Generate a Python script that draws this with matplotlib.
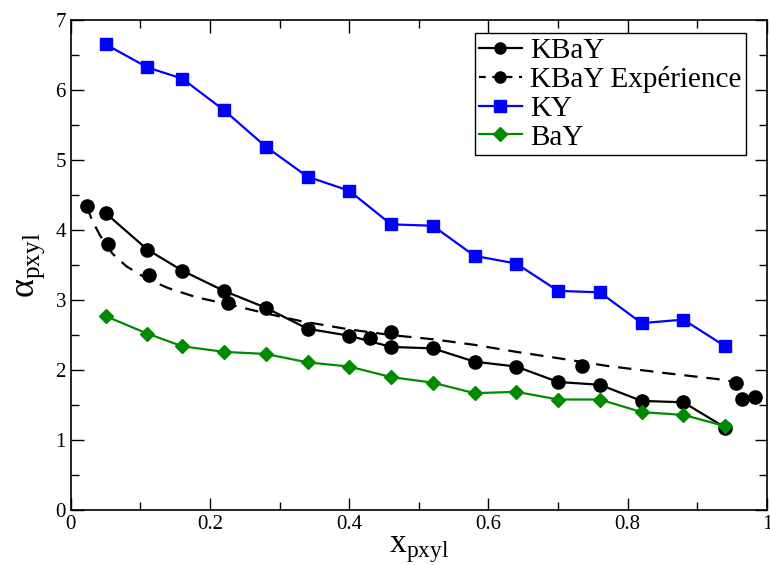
import matplotlib
matplotlib.use("Agg")
import matplotlib.pyplot as plt
from matplotlib.lines import Line2D
from matplotlib.ticker import MultipleLocator

plt.rcParams['font.family'] = ['Liberation Serif', 'DejaVu Serif']
plt.rcParams['mathtext.fontset'] = 'custom'
plt.rcParams['mathtext.rm'] = 'Liberation Serif'

# KBaY (simulation), KY, BaY share the same composition grid
x_sim = [0.05, 0.11, 0.16, 0.22, 0.28, 0.34, 0.40, 0.46, 0.52, 0.58,
         0.64, 0.70, 0.76, 0.82, 0.88, 0.94]
kbay = [4.24, 3.72, 3.42, 3.13, 2.89, 2.59, 2.49, 2.33, 2.31, 2.12,
        2.05, 1.83, 1.79, 1.56, 1.54, 1.18]
ky = [6.65, 6.32, 6.16, 5.71, 5.19, 4.76, 4.56, 4.08, 4.06, 3.63,
      3.52, 3.13, 3.11, 2.67, 2.72, 2.34]
bay = [2.77, 2.52, 2.34, 2.26, 2.23, 2.11, 2.05, 1.90, 1.82, 1.67,
       1.69, 1.58, 1.58, 1.40, 1.36, 1.20]

# experimental points
x_exp = [0.023, 0.053, 0.112, 0.226, 0.43, 0.46, 0.734, 0.955, 0.964, 0.983]
kbay_exp = [4.34, 3.80, 3.35, 2.96, 2.46, 2.55, 2.06, 1.82, 1.59, 1.62]

# dashed fit through experiment
x_fit = [0.023, 0.03, 0.042, 0.06, 0.08, 0.11, 0.14, 0.18, 0.23, 0.28,
         0.33, 0.40, 0.46, 0.52, 0.58, 0.64, 0.70, 0.77, 0.86, 0.93, 0.955]
y_fit = [4.34, 4.15, 3.92, 3.66, 3.48, 3.30, 3.17, 3.04, 2.93, 2.81,
         2.70, 2.58, 2.50, 2.44, 2.36, 2.26, 2.17, 2.06, 1.95, 1.87, 1.83]

green = '#008b00'

fig = plt.figure(figsize=(7.7, 5.65), dpi=100)
ax = fig.add_axes([0.092, 0.097, 0.904, 0.868])

ax.plot(x_fit, y_fit, color='black', lw=1.6, ls=(0, (6, 4)))
ax.plot(x_exp, kbay_exp, ls='none', marker='o', ms=9.5, color='black')
ax.plot(x_sim, kbay, color='black', lw=1.6, marker='o', ms=9.5)
ax.plot(x_sim, ky, color='blue', lw=1.6, marker='s', ms=9)
ax.plot(x_sim, bay, color=green, lw=1.6, marker='D', ms=7.5)

handles = [
    Line2D([], [], color='black', lw=1.6, marker='o', ms=8),
    Line2D([], [], color='black', lw=1.6, ls=(0, (3, 3)), marker='o', ms=8),
    Line2D([], [], color='blue', lw=1.6, marker='s', ms=8),
    Line2D([], [], color=green, lw=1.6, marker='D', ms=7),
]
labels = ['KBaY', 'KBaY Expérience', 'KY', 'BaY']
leg = ax.legend(handles, labels, loc='upper right', bbox_to_anchor=(0.97, 0.973),
                fontsize=21, frameon=True, fancybox=False, framealpha=1,
                edgecolor='black', handlelength=1.45, handletextpad=0.3,
                labelspacing=0.08, borderpad=0.15, borderaxespad=0)
leg.get_frame().set_linewidth(1.0)

ax.set_xlim(0, 1)
ax.set_ylim(0, 7)
ax.xaxis.set_major_locator(MultipleLocator(0.2))
ax.xaxis.set_minor_locator(MultipleLocator(0.1))
ax.yaxis.set_major_locator(MultipleLocator(1))
ax.yaxis.set_minor_locator(MultipleLocator(0.5))
ax.set_xticks([0, 0.2, 0.4, 0.6, 0.8, 1])
ax.set_xticklabels(['0', '0.2', '0.4', '0.6', '0.8', '1'])
ax.tick_params(which='both', direction='in', top=True, right=True,
               labelsize=15, width=1.0)
ax.tick_params(which='major', length=9)
ax.tick_params(which='minor', length=6)
for s in ax.spines.values():
    s.set_linewidth(1.2)

ax.set_xlabel(r'x$_{\mathrm{pxyl}}$', fontsize=24, labelpad=0)
ax.set_ylabel(r'α$_{\mathrm{pxyl}}$', fontsize=26, labelpad=6)

fig.savefig('out.png', dpi=100)
